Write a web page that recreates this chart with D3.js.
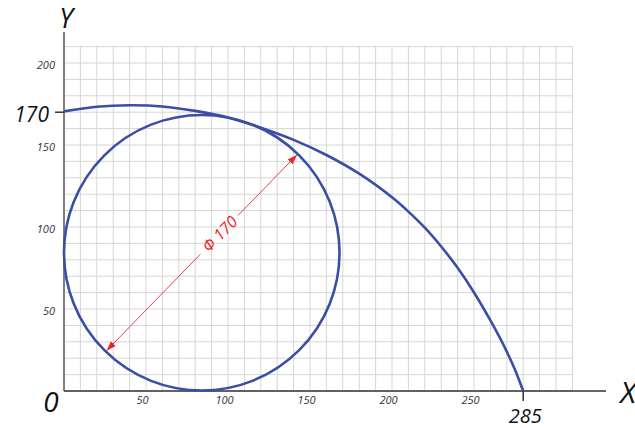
<!DOCTYPE html>
<html><head><meta charset="utf-8">
<script src="https://cdn.jsdelivr.net/npm/d3@7"></script>
<style>html,body{margin:0;padding:0;background:#fff}svg{display:block}</style>
</head><body>
<script>
// ---- data ----
const xTicks = [50, 100, 150, 200, 250];
const yTicks = [50, 100, 150, 200];
const gridX = d3.range(0, 311, 10);
const gridY = d3.range(0, 211, 10);
const curveX = [0, 20, 40, 60, 80, 100, 120, 140, 160, 180, 200, 210, 220, 230, 240, 250, 260, 265, 270, 275, 280];
const curveY = [170.5, 173.3, 174.2, 173.5, 170.8, 166.8, 160.5, 153.1, 143.9, 132.5, 118.1, 109.4, 99.6, 88.1, 75.1, 60.1, 43.1, 33.9, 24, 13, 0];
const circleCenter = [84, 84.3];
const circleRadius = 84;
const dimAngle = 45.8; // degrees
const specialY = {value: 170, label: "170"};
const specialX = {value: 280, label: "285"};
const dimLabel = "Φ 170";

const W = 635, H = 428;
const svg = d3.select("body").append("svg").attr("width", W).attr("height", H);
const x = d3.scaleLinear().domain([0, 310]).range([64, 572.4]);
const y = d3.scaleLinear().domain([0, 210]).range([391, 46.6]);
const font = "'Open Sans', 'DejaVu Sans', sans-serif";

// grid
svg.append("g").selectAll("line").data(gridX).join("line")
  .attr("x1", d => x(d)).attr("x2", d => x(d)).attr("y1", y(0)).attr("y2", y(210))
  .attr("stroke", "#d6d6d6").attr("stroke-width", 1);
svg.append("g").selectAll("line").data(gridY).join("line")
  .attr("x1", x(0)).attr("x2", x(310)).attr("y1", d => y(d)).attr("y2", d => y(d))
  .attr("stroke", "#d6d6d6").attr("stroke-width", 1);

// tick labels via axes
const xa = svg.append("g").attr("transform", `translate(-4,${y(0)})`)
  .call(d3.axisBottom(x).tickValues(xTicks).tickSize(0).tickPadding(5));
xa.select(".domain").remove();
xa.selectAll("text").attr("font-family", font).attr("font-style", "italic").attr("font-size", 11).attr("fill", "#333");
const ya = svg.append("g").attr("transform", `translate(${x(0) - 9},2)`)
  .call(d3.axisLeft(y).tickValues(yTicks).tickSize(0).tickPadding(0));
ya.select(".domain").remove();
ya.selectAll("text").attr("font-family", font).attr("font-style", "italic").attr("font-size", 11).attr("fill", "#333");

// axes lines
svg.append("line").attr("x1", x(0)).attr("x2", x(0)).attr("y1", y(0)).attr("y2", 32)
  .attr("stroke", "#7f7f7f").attr("stroke-width", 2);
svg.append("line").attr("x1", x(0)).attr("x2", 606).attr("y1", y(0)).attr("y2", y(0))
  .attr("stroke", "#333").attr("stroke-width", 1.5);
// special ticks
svg.append("line").attr("x1", x(0) - 9).attr("x2", x(0)).attr("y1", y(specialY.value)).attr("y2", y(specialY.value))
  .attr("stroke", "#333").attr("stroke-width", 1.5);
svg.append("line").attr("x1", x(specialX.value)).attr("x2", x(specialX.value)).attr("y1", y(0)).attr("y2", y(0) + 10)
  .attr("stroke", "#333").attr("stroke-width", 1.5);

// big labels
const big = (t, px, py, size, anchor) => svg.append("text").text(t).attr("x", px).attr("y", py)
  .attr("font-family", font).attr("font-style", "italic").attr("font-size", size)
  .attr("text-anchor", anchor || "middle").attr("fill", "#111");
big("Y", 66, 28, 27);
big("X", 628, 403, 30);
big("0", 51, 412, 28);
big(specialY.label, 49, 122, 21, "end");
big(specialX.label, x(specialX.value) + 2, 423, 20);

// curve
const pts = curveX.map((d, i) => [d, curveY[i]]);
svg.append("path").datum(pts)
  .attr("d", d3.line().x(d => x(d[0])).y(d => y(d[1])).curve(d3.curveCatmullRom))
  .attr("fill", "none").attr("stroke", "#3a4ea3").attr("stroke-width", 2.6);

// circle
svg.append("ellipse")
  .attr("cx", x(circleCenter[0])).attr("cy", y(circleCenter[1]))
  .attr("rx", x(circleRadius) - x(0)).attr("ry", y(0) - y(circleRadius))
  .attr("fill", "none").attr("stroke", "#3a4ea3").attr("stroke-width", 2.6);

// dimension line
const defs = svg.append("defs");
defs.append("marker").attr("id", "arr").attr("viewBox", "0 0 10 10").attr("refX", 10).attr("refY", 5)
  .attr("markerWidth", 10).attr("markerHeight", 10).attr("markerUnits", "userSpaceOnUse").attr("orient", "auto")
  .append("path").attr("d", "M0,1.5 L10,5 L0,8.5 Z").attr("fill", "#f0232a");
const cx = x(circleCenter[0]), cy = y(circleCenter[1]);
const rpx = x(circleRadius) - x(0);
const a = dimAngle * Math.PI / 180;
const ux = Math.cos(a), uy = -Math.sin(a);
const gap0 = 2, gap1 = 52;
svg.append("line").attr("x1", cx + ux * gap1).attr("y1", cy + uy * gap1)
  .attr("x2", cx + ux * (rpx - 1)).attr("y2", cy + uy * (rpx - 1))
  .attr("stroke", "#f0232a").attr("stroke-width", 0.9).attr("marker-end", "url(#arr)");
svg.append("line").attr("x1", cx - ux * gap0).attr("y1", cy - uy * gap0)
  .attr("x2", cx - ux * (rpx - 1)).attr("y2", cy - uy * (rpx - 1))
  .attr("stroke", "#f0232a").attr("stroke-width", 0.9).attr("marker-end", "url(#arr)");
const tm = (gap1 - gap0) / 2 + 1;
svg.append("text").text(dimLabel)
  .attr("transform", `translate(${cx + ux * tm},${cy + uy * tm}) rotate(${-dimAngle})`)
  .attr("text-anchor", "middle").attr("dy", "0.35em")
  .attr("font-family", font).attr("font-style", "italic").attr("font-size", 16).attr("fill", "#f0232a");
</script>
</body></html>
